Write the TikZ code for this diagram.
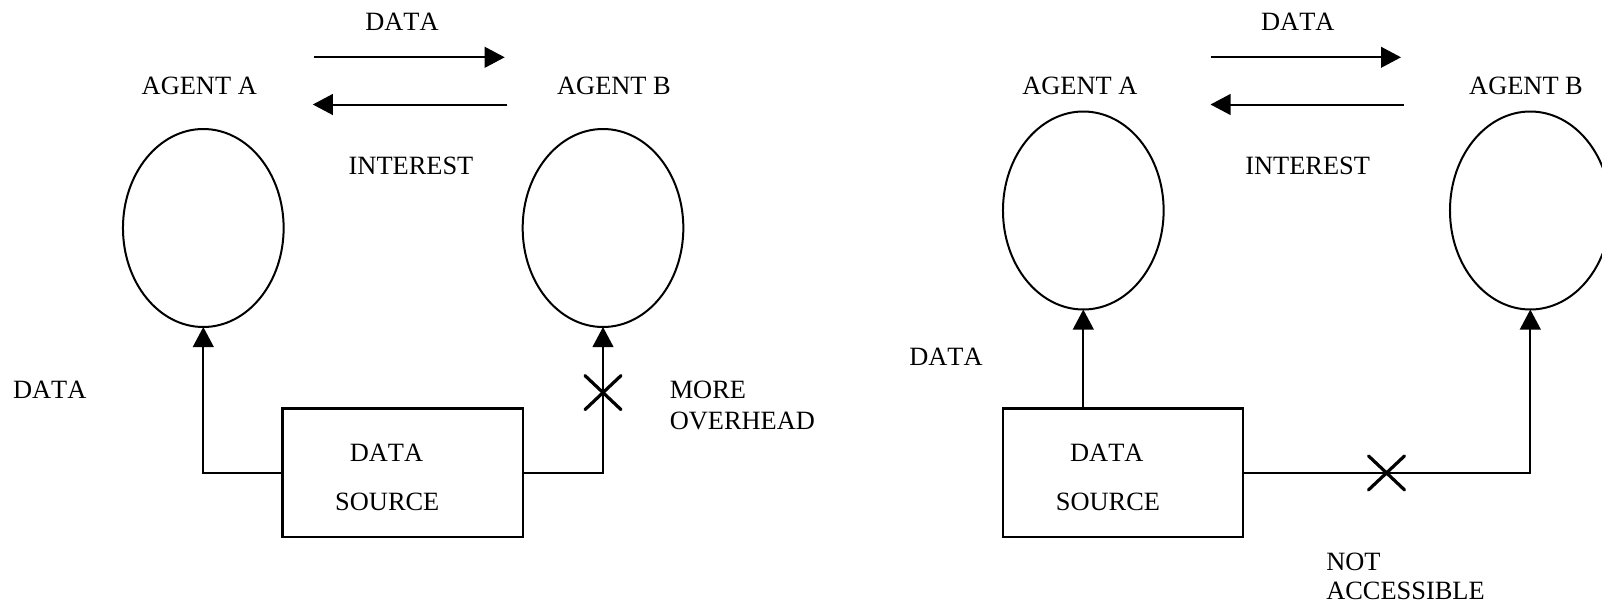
\documentclass[tikz,border=0pt]{standalone}
\usepackage{fontspec}
\setmainfont{Liberation Serif}[Kerning=Off]
\usetikzlibrary{arrows.meta,shapes.geometric,shapes.misc}
\begin{document}
\begin{tikzpicture}[x=0.75pt,y=-0.75pt,
  lbl/.style={font=\fontsize{19.8pt}{24pt}\selectfont, inner sep=0pt, anchor=base},
  lblw/.style={lbl, anchor=base west},
  agent/.style={draw, ellipse, line width=1.5pt, inner sep=0pt, outer sep=0pt,
                minimum width=120.5pt, minimum height=148.5pt},
  srcbox/.style={draw, rectangle, line width=1.8pt, inner sep=0pt, outer sep=0pt,
                 minimum width=180.3pt, minimum height=96.4pt},
  conn/.style={line width=1.5pt, -{Triangle[length=15pt,width=15.5pt]}},
  cut/.style={draw, cross out, line width=2.4pt, line cap=round, inner sep=0pt,
              outer sep=0pt, minimum width=27pt, minimum height=25.5pt}]
\useasboundingbox (0,0) rectangle (1602,607);
\clip (0,0) rectangle (1602,607);

% ---------------- left scheme: source feeds both agents ----------------
\node[agent] (ca1) at (203.3,228) {};
\node[agent] (cb1) at (603,228) {};
\node[srcbox] (box1) at (402.7,472.7) {};

\node[lbl] (tdata1) at (402,30.2) {DATA};
\node[lbl] (ta1) at (199.3,94.1) {AGENT A};
\node[lbl] (tb1) at (614,94.1) {AGENT B};
\node[lbl] (tint1) at (411,174.2) {INTEREST};
\node[lbl] (tside1) at (49.7,398) {DATA};
\node[lbl] (tsd1) at (386.5,461.9) {DATA};
\node[lbl] (tss1) at (387.3,510) {SOURCE};
\node[lblw] (tmore) at (669.5,398) {MORE};
\node[lblw] (tover) at (669.5,429.7) {OVERHEAD};

\coordinate (d1s) at (313.8,57.3);
\coordinate (d1e) at (504.7,57.3);
\coordinate (i1s) at (507.3,104.5);
\coordinate (i1e) at (312.8,104.5);
\draw[conn] (d1s) -- (d1e);
\draw[conn] (i1s) -- (i1e);

\draw[conn] (box1.west) -| (ca1.south);
\draw[conn] (box1.east) -| (cb1.south);
\node[cut] (x1) at (603,392.6) {};

% ---------------- right scheme: agent B cut off from the source ----------------
\node[agent] (ca2) at (1083.3,210.5) {};
\node[agent] (cb2) at (1530.3,210.5) {};
\node[srcbox] (box2) at (1123,472.7) {};

\node[lbl] (tdata2) at (1297.8,30.2) {DATA};
\node[lbl] (ta2) at (1079.9,94.1) {AGENT A};
\node[lbl] (tb2) at (1526,94.1) {AGENT B};
\node[lbl] (tint2) at (1307.6,174.2) {INTEREST};
\node[lbl] (tside2) at (946,365.9) {DATA};
\node[lbl] (tsd2) at (1106.8,461.9) {DATA};
\node[lbl] (tss2) at (1108,510) {SOURCE};
\node[lblw] (tnot) at (1326,570) {NOT};
\node[lblw] (tacc) at (1326,599.5) {ACCESSIBLE};

\coordinate (d2s) at (1210.5,57.3);
\coordinate (d2e) at (1401,57.3);
\coordinate (i2s) at (1403.5,104.5);
\coordinate (i2e) at (1210.5,104.5);
\draw[conn] (d2s) -- (d2e);
\draw[conn] (i2s) -- (i2e);

\draw[conn] (ca2.south |- box2.north) -- (ca2.south);
\draw[conn] (box2.east) -| (cb2.south);
\node[cut] (x2) at (1386.5,472.9) {};
\end{tikzpicture}
\end{document}
